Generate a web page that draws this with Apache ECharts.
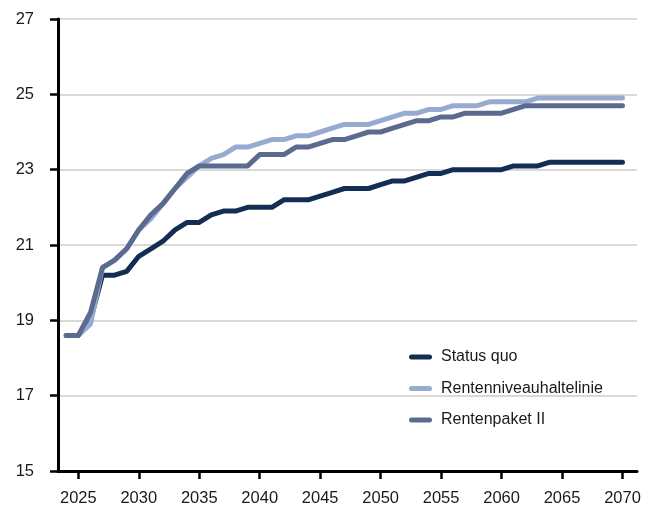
<!DOCTYPE html>
<html>
<head>
<meta charset="utf-8">
<script src="https://cdn.jsdelivr.net/npm/echarts@6/dist/echarts.min.js"></script>
<style>
  html, body { margin: 0; padding: 0; background: #fff; }
  #chart { width: 649px; height: 507px; }
</style>
</head>
<body>
<div id="chart"></div>
<script>
// Jahre 2024..2070
const years = [];
for (let y = 2024; y <= 2070; y++) years.push(y);

const tickYears = [2025, 2030, 2035, 2040, 2045, 2050, 2055, 2060, 2065, 2070];

const seriesNames = ['Status quo', 'Rentenniveauhaltelinie', 'Rentenpaket II'];

const statusQuo = [
  18.6, 18.6, 19.0, 20.2, 20.2, 20.3, 20.7, 20.9, 21.1, 21.4,
  21.6, 21.6, 21.8, 21.9, 21.9, 22.0, 22.0, 22.0, 22.2, 22.2,
  22.2, 22.3, 22.4, 22.5, 22.5, 22.5, 22.6, 22.7, 22.7, 22.8,
  22.9, 22.9, 23.0, 23.0, 23.0, 23.0, 23.0, 23.1, 23.1, 23.1,
  23.2, 23.2, 23.2, 23.2, 23.2, 23.2, 23.2
];

const haltelinie = [
  18.6, 18.6, 18.9, 20.4, 20.6, 20.9, 21.4, 21.7, 22.1, 22.5,
  22.8, 23.1, 23.3, 23.4, 23.6, 23.6, 23.7, 23.8, 23.8, 23.9,
  23.9, 24.0, 24.1, 24.2, 24.2, 24.2, 24.3, 24.4, 24.5, 24.5,
  24.6, 24.6, 24.7, 24.7, 24.7, 24.8, 24.8, 24.8, 24.8, 24.9,
  24.9, 24.9, 24.9, 24.9, 24.9, 24.9, 24.9
];

const rentenpaket = [
  18.6, 18.6, 19.2, 20.4, 20.6, 20.9, 21.4, 21.8, 22.1, 22.5,
  22.9, 23.1, 23.1, 23.1, 23.1, 23.1, 23.4, 23.4, 23.4, 23.6,
  23.6, 23.7, 23.8, 23.8, 23.9, 24.0, 24.0, 24.1, 24.2, 24.3,
  24.3, 24.4, 24.4, 24.5, 24.5, 24.5, 24.5, 24.6, 24.7, 24.7,
  24.7, 24.7, 24.7, 24.7, 24.7, 24.7, 24.7
];

const colors = ['#142d52', '#97abd0', '#5b6a8e'];
const font = '"Liberation Sans", Arial, sans-serif';

function pairs(vals) {
  return years.map((y, i) => [y, vals[i]]);
}

const chart = echarts.init(document.getElementById('chart'), null, { renderer: 'canvas' });

const legendIcon = 'path://M2.5,0 H20.5 A2.5,2.5 0 0 1 20.5,5 H2.5 A2.5,2.5 0 0 1 2.5,0 Z';

chart.setOption({
  animation: false,
  color: colors,
  grid: { left: 58, right: 12, top: 19, bottom: 36 },
  legend: {
    orient: 'vertical',
    left: 409,
    top: 347,
    padding: 0,
    itemWidth: 23,
    itemHeight: 5,
    itemGap: 11.5,
    icon: legendIcon,
    data: seriesNames,
    textStyle: { fontFamily: font, fontSize: 16, color: '#1a1a1a', lineHeight: 20, padding: [0, 0, 0, 4] }
  },
  xAxis: {
    type: 'value',
    min: 2023.32,
    max: 2071.2,
    axisLine: { show: true, lineStyle: { color: '#000', width: 3 } },
    axisTick: { show: true, customValues: tickYears, length: 8, lineStyle: { color: '#000', width: 2.5 } },
    axisLabel: {
      customValues: tickYears,
      margin: 19,
      fontFamily: font,
      fontSize: 16.5,
      color: '#1a1a1a',
      formatter: v => String(v)
    },
    splitLine: { show: false }
  },
  yAxis: {
    type: 'value',
    min: 15,
    max: 27,
    interval: 2,
    axisLine: { show: true, lineStyle: { color: '#000', width: 3 } },
    axisTick: { show: true, length: 8, lineStyle: { color: '#000', width: 2.5 } },
    axisLabel: { margin: 24, fontFamily: font, fontSize: 16.5, color: '#1a1a1a' },
    splitLine: { show: true, lineStyle: { color: '#cccccc', width: 1.5 } }
  },
  series: [
    { name: seriesNames[0], type: 'line', data: pairs(statusQuo) },
    { name: seriesNames[1], type: 'line', data: pairs(haltelinie) },
    { name: seriesNames[2], type: 'line', data: pairs(rentenpaket) }
  ].map(s => Object.assign(s, {
    symbol: 'none',
    lineStyle: { width: 5, cap: 'round', join: 'round' }
  }))
});
</script>
</body>
</html>
